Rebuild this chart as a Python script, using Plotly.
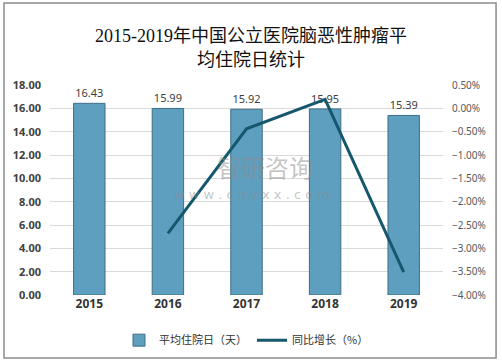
import plotly.graph_objects as go

years = ["2015", "2016", "2017", "2018", "2019"]
avg_days = [16.43, 15.99, 15.92, 15.95, 15.39]
yoy_years = ["2016", "2017", "2018", "2019"]
yoy_pct = [-0.0268, -0.0044, 0.0019, -0.0351]

left_ticks = [0, 2, 4, 6, 8, 10, 12, 14, 16, 18]

cjk = "Microsoft YaHei, Noto Sans CJK SC, sans-serif"

fig = go.Figure()
fig.add_trace(go.Bar(
    x=years, y=avg_days, name="平均住院日（天）",
    marker=dict(color="#5E9FBF", line=dict(color="#3D6F86", width=1)),
    width=0.4,
    text=[f"{v:.2f}" for v in avg_days], textposition="outside",
    textfont=dict(size=11, color="#404040", family="Noto Sans, sans-serif"),
    cliponaxis=False,
))
fig.add_trace(go.Scatter(
    x=yoy_years, y=yoy_pct, name="同比增长（%）", yaxis="y2",
    mode="lines", line=dict(color="#15586D", width=3),
))

fig.update_layout(
    width=502, height=363,
    margin=dict(l=50, r=59, t=85, b=68, autoexpand=False),
    paper_bgcolor="white", plot_bgcolor="white",
    title=dict(
        text="2015-2019年中国公立医院脑恶性肿瘤平<br>均住院日统计",
        x=0.5, xanchor="center", y=0.884, yanchor="middle",
        font=dict(size=18, color="#111111", family="Liberation Serif, Noto Sans CJK SC, serif"),
    ),
    xaxis=dict(
        showgrid=False, showline=False, ticks="",
        tickfont=dict(size=12, color="#333333", family="Noto Sans, sans-serif", weight="bold"),
    ),
    yaxis=dict(
        range=[0, 18], tickvals=left_ticks, tickformat=".2f",
        gridcolor="#D9D9D9", gridwidth=1, zeroline=False, showline=False,
        tickfont=dict(size=11, color="#404040", family="Noto Sans, sans-serif", weight="bold"),
        ticklabelstandoff=8,
    ),
    yaxis2=dict(
        overlaying="y", side="right", range=[-0.04, 0.005], dtick=0.005,
        tick0=0, tickformat=".2%", showgrid=False, zeroline=False, showline=False,
        tickfont=dict(size=10, color="#595959", family="Noto Sans, sans-serif"),
        ticklabelstandoff=8,
    ),
    legend=dict(
        orientation="h", x=0.5, xanchor="center", y=-0.215, yanchor="middle",
        font=dict(size=11, color="#333333", family=cjk),
    ),
    showlegend=True,
    shapes=[dict(type="rect", xref="paper", yref="paper", x0=-0.117, x1=1.135, y0=-0.300, y1=1.390,
                 line=dict(color="#8C8C8C", width=1.5), layer="above")],
    annotations=[
        dict(text="智研咨询", xref="paper", yref="paper", x=0.547, y=0.61, showarrow=False,
             font=dict(size=24, color="rgba(140,140,140,0.5)", family=cjk)),
        dict(text="w w w . c h y x x . c o m", xref="paper", yref="paper", x=0.515, y=0.48, showarrow=False,
             font=dict(size=13, color="rgba(140,140,140,0.5)", family="DejaVu Sans, sans-serif")),
    ],
)

fig.write_html("out.html", config={"displayModeBar": False},
               post_script="document.body.style.margin='0';")
